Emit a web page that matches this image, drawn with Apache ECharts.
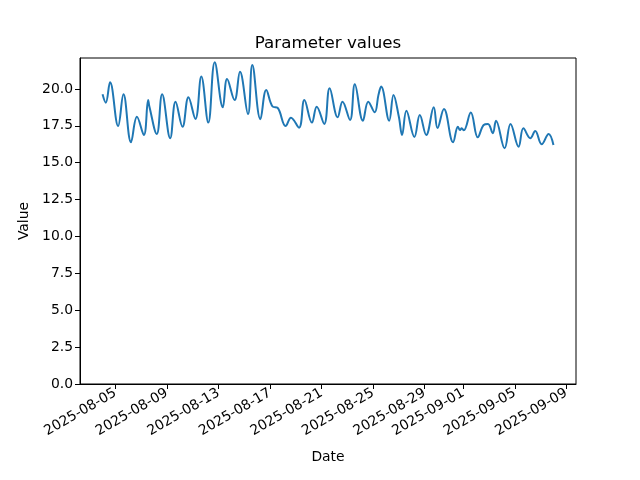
<!DOCTYPE html>
<html>
<head>
<meta charset="utf-8">
<script src="https://cdn.jsdelivr.net/npm/echarts@6/dist/echarts.min.js"></script>
<style>html,body{margin:0;padding:0;background:#fff}#c{width:640px;height:480px}</style>
</head>
<body>
<div id="c"></div>
<script>
const times = [
'2025-08-04T00:00','2025-08-04T06:00','2025-08-04T14:00','2025-08-05T05:00','2025-08-05T15:00',
'2025-08-06T05:00','2025-08-06T16:00','2025-08-07T05:00','2025-08-07T13:00','2025-08-07T15:00',
'2025-08-08T05:00','2025-08-08T15:00','2025-08-09T06:00','2025-08-09T16:00','2025-08-10T05:00',
'2025-08-10T16:00','2025-08-11T05:00','2025-08-11T16:00','2025-08-12T05:00','2025-08-12T17:00',
'2025-08-13T08:00','2025-08-13T16:00','2025-08-14T06:00','2025-08-14T16:00','2025-08-15T07:00',
'2025-08-15T15:00','2025-08-16T06:00','2025-08-16T17:00','2025-08-17T05:00','2025-08-17T14:00',
'2025-08-18T05:00','2025-08-18T15:00','2025-08-19T06:00','2025-08-19T16:00','2025-08-20T06:00',
'2025-08-20T15:00','2025-08-21T05:00','2025-08-21T15:00','2025-08-22T06:00','2025-08-22T15:00',
'2025-08-23T05:00','2025-08-23T14:00','2025-08-24T05:00','2025-08-24T15:00','2025-08-25T03:00',
'2025-08-25T10:00','2025-08-25T15:00','2025-08-26T06:00','2025-08-26T14:00','2025-08-27T00:00',
'2025-08-27T06:00','2025-08-27T14:00','2025-08-28T05:00','2025-08-28T15:00','2025-08-29T03:00',
'2025-08-29T17:00','2025-08-30T00:00','2025-08-30T12:00','2025-08-31T05:00','2025-08-31T14:00',
'2025-08-31T18:00','2025-08-31T21:00','2025-09-01T01:00','2025-09-01T14:00','2025-09-02T03:00',
'2025-09-02T14:00','2025-09-02T22:00','2025-09-03T07:00','2025-09-03T13:00','2025-09-04T05:00',
'2025-09-04T16:00','2025-09-05T07:00','2025-09-05T16:00','2025-09-06T05:00','2025-09-06T14:00',
'2025-09-07T02:00','2025-09-07T15:00','2025-09-08T00:00'
];
const values = [
19.64,19.07,20.45,17.49,19.64,
16.39,18.12,16.88,19.25,18.85,
16.95,19.64,16.66,19.14,17.44,
19.44,17.97,20.84,17.72,21.81,
18.76,20.68,19.25,21.17,18.30,
21.63,17.95,19.93,18.80,18.73,
17.49,18.05,17.38,19.25,17.72,
18.80,17.63,20.05,18.08,19.14,
17.90,20.32,17.85,19.14,18.42,
19.60,20.16,17.85,19.60,18.12,
16.88,18.53,16.75,18.24,16.88,
18.76,17.35,18.64,16.39,17.44,
17.22,17.33,17.20,18.40,16.72,
17.56,17.63,17.00,17.85,15.98,
17.63,16.09,17.33,16.66,17.15,
16.25,16.95,16.20
];
const xTickLabels = ['2025-08-05','2025-08-09','2025-08-13','2025-08-17','2025-08-21',
  '2025-08-25','2025-08-29','2025-09-01','2025-09-05','2025-09-09'];
const yTicks = [0,2.5,5,7.5,10,12.5,15,17.5,20];

const toMs = s => Date.parse(s.length > 10 ? s + ':00Z' : s + 'T00:00:00Z');
const seriesData = times.map((t, i) => [toMs(t), values[i]]);
const tickMs = xTickLabels.map(toMs);
const pad = n => (n < 10 ? '0' : '') + n;
const fmtDate = v => { const d = new Date(v); return d.getUTCFullYear() + '-' + pad(d.getUTCMonth() + 1) + '-' + pad(d.getUTCDate()); };

const chart = echarts.init(document.getElementById('c'), null, {renderer: 'canvas'});
const font = 'DejaVu Sans';
chart.setOption({
  animation: false,
  backgroundColor: '#fff',
  textStyle: {fontFamily: font},
  title: {text: 'Parameter values', left: 323, top: 30, textAlign: 'center',
    textStyle: {fontFamily: font, fontSize: 16.7, fontWeight: 'normal', color: '#000'}},
  grid: {left: 80, right: 64, top: 58, bottom: 96, show: true, borderColor: '#000', borderWidth: 1, backgroundColor: 'transparent'},
  xAxis: {
    type: 'value',
    min: toMs('2025-08-02T06:00'), max: toMs('2025-09-09T18:00'),
    name: 'Date', nameLocation: 'middle', nameGap: 66,
    nameTextStyle: {fontFamily: font, fontSize: 13.9, color: '#000'},
    axisLine: {show: true, lineStyle: {color: '#000', width: 1}},
    axisTick: {show: true, customValues: tickMs, length: 5, lineStyle: {color: '#000'}},
    axisLabel: {customValues: tickMs, rotate: 30, margin: 8, formatter: v => fmtDate(v),
      fontFamily: font, fontSize: 13.9, color: '#000'},
    splitLine: {show: false}
  },
  yAxis: {
    type: 'value', min: 0, max: 22.1,
    name: 'Value', nameLocation: 'middle', nameGap: 41,
    nameTextStyle: {fontFamily: font, fontSize: 13.9, color: '#000'},
    axisLine: {show: true, lineStyle: {color: '#000', width: 1}},
    axisTick: {show: true, customValues: yTicks, length: 5, lineStyle: {color: '#000'}},
    axisLabel: {customValues: yTicks, margin: 7, formatter: v => v.toFixed(1),
      fontFamily: font, fontSize: 13.9, color: '#000'},
    splitLine: {show: false}
  },
  series: [{
    type: 'line', data: seriesData, showSymbol: false, smooth: 0.4,
    lineStyle: {color: '#1f77b4', width: 2}, itemStyle: {color: '#1f77b4'}
  }]
});
</script>
</body>
</html>
